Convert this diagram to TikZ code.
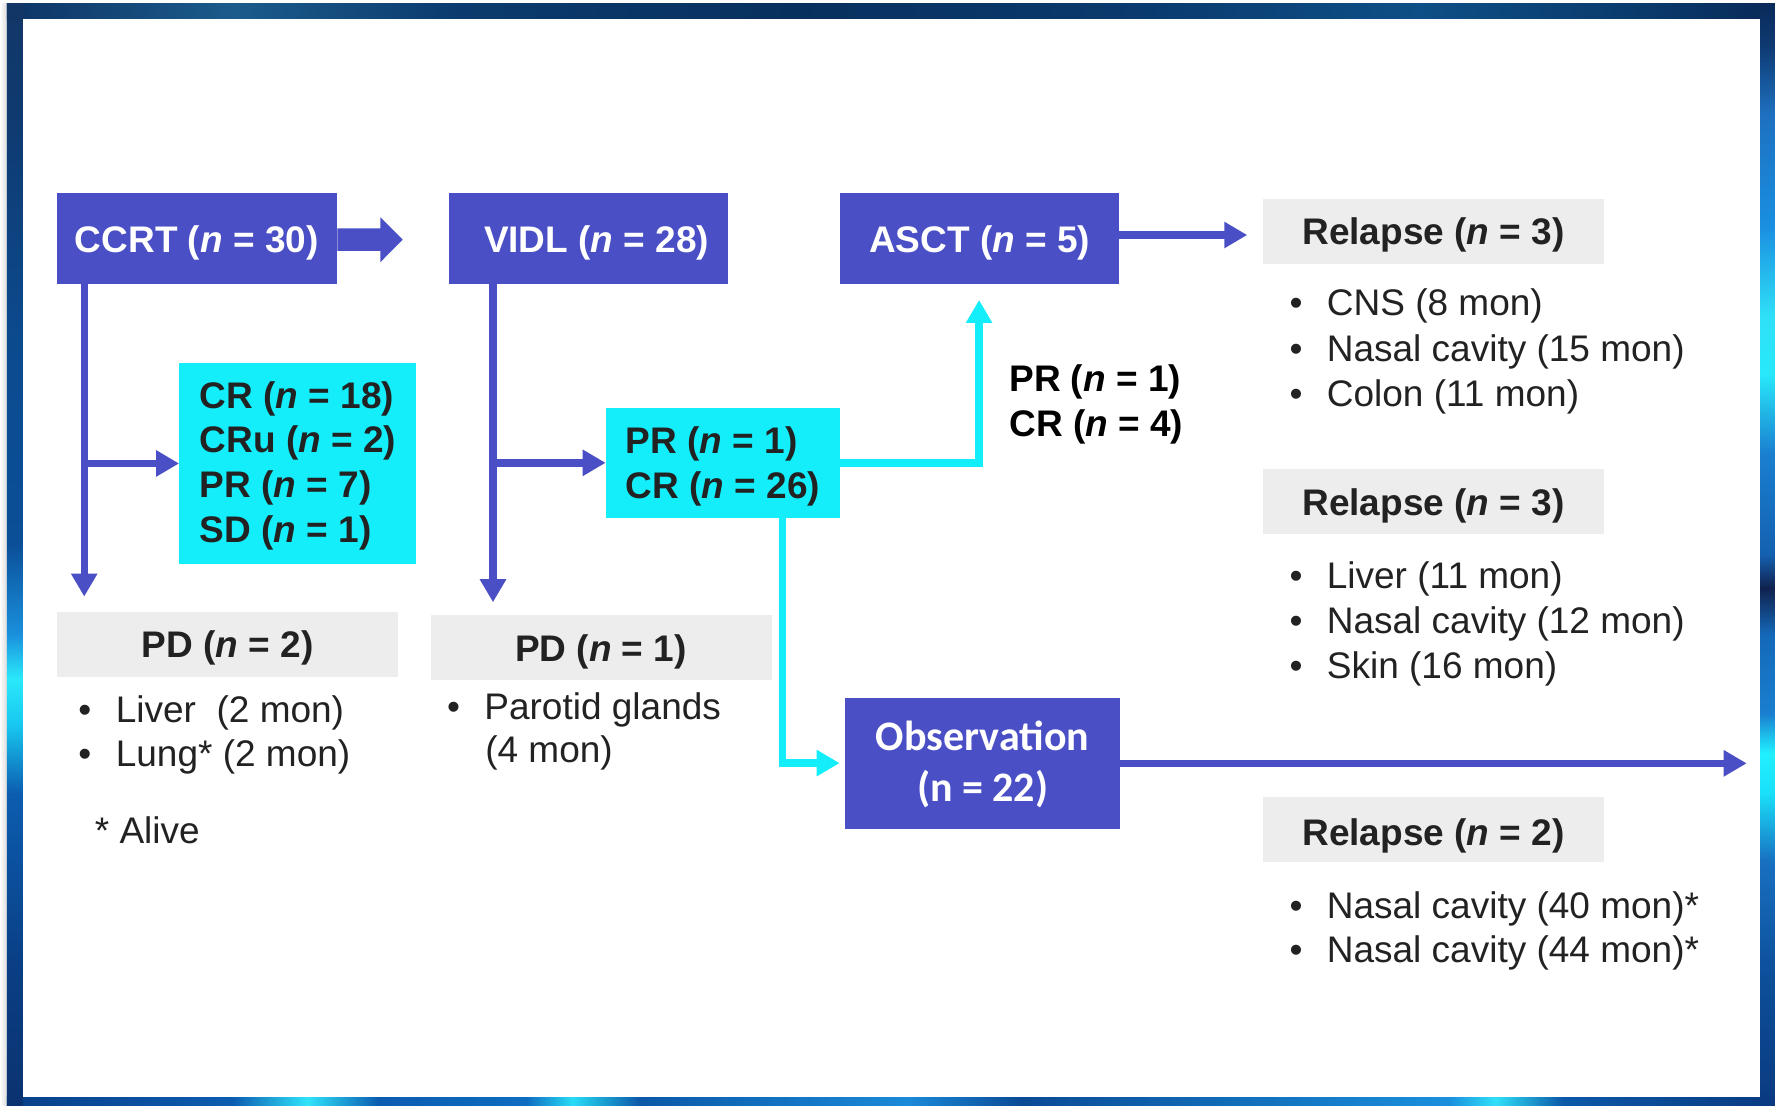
\documentclass[tikz,border=0pt]{standalone}
\usepackage{fontspec}
\setmainfont{Liberation Sans}
\newfontfamily\obsfont{Carlito}
\usetikzlibrary{arrows.meta,fit}

% palette
\definecolor{boxblue}{HTML}{4A4FC6}
\definecolor{boxcyan}{HTML}{14EEFA}
\definecolor{hdrgray}{HTML}{EDEDED}
\definecolor{ink}{HTML}{222222}
\definecolor{framebase}{HTML}{0B4080}

% frame colours, left edge (bottom to top)
\definecolor{Ls1}{HTML}{0B3270}\definecolor{Ls2}{HTML}{0A3F85}
\definecolor{Ls3}{HTML}{0C5DB0}\definecolor{Ls4}{HTML}{18C8F0}
\definecolor{Ls5}{HTML}{2AE8FA}\definecolor{Ls6}{HTML}{1A90DD}
\definecolor{Ls7}{HTML}{0B4F98}\definecolor{Ls8}{HTML}{0C4A8E}
\definecolor{Ls9}{HTML}{0F3A70}\definecolor{Ls10}{HTML}{123766}
% right edge (bottom to top)
\definecolor{Rs1}{HTML}{0A3A80}\definecolor{Rs2}{HTML}{0D4F9A}
\definecolor{Rs3}{HTML}{1870C0}\definecolor{Rs4}{HTML}{1AE0FA}
\definecolor{Rs5}{HTML}{20F0FF}\definecolor{Rs6}{HTML}{1A7FD0}
\definecolor{Rs7}{HTML}{1468B8}\definecolor{Rs8}{HTML}{10224E}
\definecolor{Rs9}{HTML}{1460B0}\definecolor{Rs10}{HTML}{1A7FD0}
\definecolor{Rs11}{HTML}{28E8FA}\definecolor{Rs12}{HTML}{30E0F8}
\definecolor{Rs13}{HTML}{1A8FE0}\definecolor{Rs14}{HTML}{1E70C0}
\definecolor{Rs15}{HTML}{0E3A72}\definecolor{Rs16}{HTML}{0A2A5A}
% top edge (left to right)
\definecolor{Ts1}{HTML}{0D3466}\definecolor{Ts2}{HTML}{1B5B8B}
\definecolor{Ts3}{HTML}{0B3B6E}\definecolor{Ts4}{HTML}{08305E}
\definecolor{Ts5}{HTML}{0A3A6E}\definecolor{Ts6}{HTML}{0D4F86}
\definecolor{Ts7}{HTML}{0A3A6C}\definecolor{Ts8}{HTML}{082A58}
% bottom edge (left to right)
\definecolor{Bs1}{HTML}{0A3F88}\definecolor{Bs2}{HTML}{0B5CB0}
\definecolor{Bs3}{HTML}{30E4FA}\definecolor{Bs4}{HTML}{0E6CC0}
\definecolor{Bs5}{HTML}{28DCF6}\definecolor{Bs6}{HTML}{0B58A8}
\definecolor{Bs7}{HTML}{1A8AD8}\definecolor{Bs8}{HTML}{0A4A95}
\definecolor{Bs9}{HTML}{1A90DD}\definecolor{Bs10}{HTML}{30E0F8}
\definecolor{Bs11}{HTML}{0A3A80}

\pgfdeclareverticalshading{leftedge}{100bp}{color(0bp)=(Ls1); color(25bp)=(Ls1);
  color(31.5bp)=(Ls2); color(39.2bp)=(Ls3); color(42.3bp)=(Ls4); color(44.4bp)=(Ls5);
  color(46.4bp)=(Ls6); color(50.5bp)=(Ls7); color(59.8bp)=(Ls8); color(70bp)=(Ls9);
  color(75bp)=(Ls10); color(100bp)=(Ls10)}
\pgfdeclareverticalshading{rightedge}{100bp}{color(0bp)=(Rs1); color(25bp)=(Rs1);
  color(31bp)=(Rs2); color(36.1bp)=(Rs3); color(39.2bp)=(Rs4); color(41bp)=(Rs5);
  color(42.8bp)=(Rs6); color(46.4bp)=(Rs7); color(48.5bp)=(Rs8); color(50bp)=(Rs9);
  color(54.6bp)=(Rs10); color(58.2bp)=(Rs11); color(60.8bp)=(Rs12); color(64.9bp)=(Rs13);
  color(70bp)=(Rs14); color(73.1bp)=(Rs15); color(75bp)=(Rs16); color(100bp)=(Rs16)}
\pgfdeclarehorizontalshading{topedge}{100bp}{color(0bp)=(Ts1); color(25bp)=(Ts1);
  color(31.4bp)=(Ts2); color(37.8bp)=(Ts3); color(47.3bp)=(Ts4); color(56.9bp)=(Ts5);
  color(64.9bp)=(Ts6); color(71.2bp)=(Ts7); color(75bp)=(Ts8); color(100bp)=(Ts8)}
\pgfdeclarehorizontalshading{bottomedge}{100bp}{color(0bp)=(Bs1); color(25bp)=(Bs1);
  color(31.4bp)=(Bs2); color(33.5bp)=(Bs3); color(35.5bp)=(Bs2); color(39.7bp)=(Bs4);
  color(41bp)=(Bs5); color(42.9bp)=(Bs6); color(50.5bp)=(Bs7); color(53.7bp)=(Bs8);
  color(65.8bp)=(Bs9); color(67.1bp)=(Bs10); color(69bp)=(Bs6); color(75bp)=(Bs11);
  color(100bp)=(Bs11)}

\newcommand{\tsize}{\fontsize{18.5pt}{22.3pt}\selectfont}
\newcommand{\bul}[1]{\makebox[18.7pt][l]{\textbullet}#1}

\begin{document}
\begin{tikzpicture}[x=0.566pt, y=-0.566pt,
  every node/.style={inner sep=0pt, outer sep=0pt},
  solidbox/.style={fill=boxblue},
  graybox/.style={fill=hdrgray},
  cyanbox/.style={fill=boxcyan},
  whitehead/.style={text=white, font=\tsize\bfseries, anchor=base},
  grayhead/.style={text=ink, font=\tsize\bfseries, anchor=base},
  boldline/.style={text=ink, font=\tsize\bfseries, anchor=base west},
  plainline/.style={text=ink, font=\tsize, anchor=base west},
  obsline/.style={text=white, font=\obsfont\bfseries\fontsize{21pt}{25pt}\selectfont, anchor=base},
  bluearrow/.style={draw=boxblue, line width=3.7pt,
    -{Triangle[length=11.5pt,width=12.5pt]}},
  cyanarrow/.style={draw=boxcyan, line width=3.7pt,
    -{Triangle[length=11.5pt,width=12.5pt]}}]

\useasboundingbox (0,0) rectangle (1568,977);

% backdrop and framed panel
\fill[white] (0,0) rectangle (1568,977);
\shade[left color=white, right color=black!14] (0,3.5) rectangle (6,977);
\fill[framebase] (6,3.5) rectangle (1568,977);
\shade[shading=topedge] (6,3.5) rectangle (1568,17);
\shade[shading=bottomedge] (6,968.8) rectangle (1568,977);
\shade[shading=leftedge] (6,3.5) rectangle (20.3,977);
\shade[shading=rightedge] (1554.8,3.5) rectangle (1568,977);
\fill[white] (20.3,17) rectangle (1554.8,968.8);

% treatment boxes
\node[solidbox, fit={(50.7,170.8) (297.5,250.6)}] (ccrt) {};
\node[whitehead] (ccrtt) at (173.8,223.2) {CCRT (\textit{n} = 30)};
\node[solidbox, fit={(396.6,170.8) (643.3,250.6)}] (vidl) {};
\node[whitehead] (vidlt) at (527,223.2) {VIDL (\textit{n} = 28)};
\node[solidbox, fit={(742,170.8) (988.9,250.6)}] (asct) {};
\node[whitehead] (asctt) at (865.5,223.2) {ASCT (\textit{n} = 5)};
\node[solidbox, fit={(746.5,616.2) (989.2,732)}] (obs) {};
\node[obsline] (obs1) at (868,663.3) {Observation};
\node[obsline] (obs2) at (868,708.3) {(n = 22)};

% response boxes
\node[cyanbox, fit={(158.2,320.8) (367.5,498)}] (crbox) {};
\node[boldline] (cr1) at (176.5,360.7) {CR (\textit{n} = 18)};
\node[boldline] (cr2) at (176.5,400) {CRu (\textit{n} = 2)};
\node[boldline] (cr3) at (176.5,439.9) {PR (\textit{n} = 7)};
\node[boldline] (cr4) at (176.5,479) {SD (\textit{n} = 1)};

\node[cyanbox, fit={(535,360.5) (741.8,457.2)}] (prbox) {};
\node[boldline] (pr1) at (552.8,400.6) {PR (\textit{n} = 1)};
\node[boldline] (pr2) at (552.8,440) {CR (\textit{n} = 26)};

\node[boldline, text=black] (up1) at (891.6,346.2) {PR (\textit{n} = 1)};
\node[boldline, text=black] (up2) at (891.6,385.3) {CR (\textit{n} = 4)};

% progression and relapse headers
\node[graybox, fit={(50.7,540.5) (351.6,598)}] (pd1) {};
\node[grayhead] (pd1t) at (201,581) {PD (\textit{n} = 2)};
\node[graybox, fit={(381,543.3) (681.6,600.7)}] (pd2) {};
\node[grayhead] (pd2t) at (530.8,584) {PD (\textit{n} = 1)};
\node[graybox, fit={(1115.9,175.8) (1416.7,232.9)}] (rel1) {};
\node[grayhead] (rel1t) at (1266.3,216.4) {Relapse (\textit{n} = 3)};
\node[graybox, fit={(1115.9,414.3) (1416.7,471.4)}] (rel2) {};
\node[grayhead] (rel2t) at (1266.3,455) {Relapse (\textit{n} = 3)};
\node[graybox, fit={(1115.9,704.3) (1416.7,761.2)}] (rel3) {};
\node[grayhead] (rel3t) at (1266.3,746.5) {Relapse (\textit{n} = 2)};

% sites and times
\node[plainline] (a1) at (69.3,637.9) {\bul{Liver\ \ (2 mon)}};
\node[plainline] (a2) at (69.3,677.5) {\bul{Lung* (2 mon)}};
\node[plainline] (alive) at (83.8,745) {* Alive};
\node[plainline] (b1) at (394.9,635.3) {\bul{Parotid glands}};
\node[plainline] (b2) at (428.7,674) {(4 mon)};
\node[plainline] (c1) at (1139.1,278.3) {\bul{CNS (8 mon)}};
\node[plainline] (c2) at (1139.1,319.5) {\bul{Nasal cavity (15 mon)}};
\node[plainline] (c3) at (1139.1,359.3) {\bul{Colon (11 mon)}};
\node[plainline] (d1) at (1139.1,519.5) {\bul{Liver (11 mon)}};
\node[plainline] (d2) at (1139.1,559.5) {\bul{Nasal cavity (12 mon)}};
\node[plainline] (d3) at (1139.1,599.2) {\bul{Skin (16 mon)}};
\node[plainline] (e1) at (1139.1,811.2) {\bul{Nasal cavity (40 mon)*}};
\node[plainline] (e2) at (1139.1,850.4) {\bul{Nasal cavity (44 mon)*}};

% free ends of connectors
\coordinate (pd1tip) at (74.4,527);
\coordinate (pd2tip) at (435.5,532);
\coordinate (asctin) at (864.9,265);
\coordinate (rel1tip) at (1101.8,207.6);
\coordinate (obsout) at (1543,674.3);

% block arrow CCRT -> VIDL
\fill[boxblue] (ccrt.east) ++(0.5,-9) -- ++(38,0) -- ++(0,-9.7) -- ++(19.7,19.7)
  -- ++(-19.7,19.9) -- ++(0,-9.9) -- ++(-38,0) -- cycle;

% connectors
\draw[bluearrow] (ccrt.south -| pd1tip) -- (pd1tip);
\draw[bluearrow] (crbox.west -| pd1tip) -- (crbox.west);
\draw[bluearrow] (vidl.south -| pd2tip) -- (pd2tip);
\draw[bluearrow] (prbox.west -| pd2tip) -- (prbox.west);
\draw[cyanarrow] (prbox.east) -| (asctin);
\draw[cyanarrow] ([xshift=30pt]prbox.south) |- ([xshift=-2.7pt]obs.west);
\draw[bluearrow] (asct.east |- rel1tip) -- (rel1tip);
\draw[bluearrow] (obs.east |- obsout) -- (obsout);

\end{tikzpicture}
\end{document}
